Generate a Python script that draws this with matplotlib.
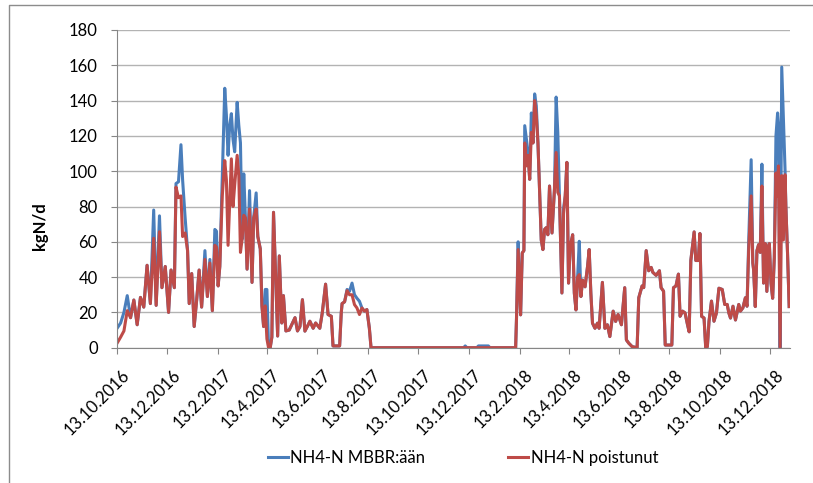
import numpy as np
import matplotlib
matplotlib.use("Agg")
from matplotlib import pyplot as plt
import matplotlib.dates as mdates
import matplotlib.transforms as mtransforms
from matplotlib.lines import Line2D

plt.rcParams['font.family'] = ['Lato', 'DejaVu Sans']

# days since 13.10.2016 (kgN/d)
day = [0, 5, 9, 13, 17, 21, 25, 29, 33, 37, 41, 45, 48, 52, 55, 59, 63, 66, 70, 72,
       75, 78, 80, 83, 86, 88, 91, 94, 97, 100, 103, 107, 110, 113, 116, 119, 121, 123, 125, 128,
       131, 133, 135, 137, 139, 141, 143, 146, 148, 150, 152, 154, 156, 158, 161, 164, 166, 169, 171, 174,
       176, 178, 180, 182, 184, 186, 188, 190, 192, 195, 197, 200, 202, 205, 209, 213, 216, 219, 222, 225,
       228, 232, 234, 238, 241, 246, 249, 253, 256, 260, 262, 270, 272, 273, 276, 279, 282, 285, 288, 291,
       294, 297, 300, 303, 306, 308, 420, 422, 424, 436, 438, 450, 452, 482,
       483, 484, 486, 488, 489, 491, 493, 494, 496, 498, 500, 502, 504, 506, 508, 510, 512, 514, 516, 518,
       520, 522, 524, 527, 530, 532, 534, 536, 539, 541, 543, 545, 547, 549, 552, 554, 556, 558, 560, 562,
       564, 567, 570, 572, 574, 576, 579, 582, 584, 588, 591, 594, 597, 601, 604, 607, 611, 615, 617, 620,
       624, 630, 632, 636, 638, 641, 644, 647, 649, 653, 657, 659, 662, 664, 672, 674, 677, 680, 682, 685,
       688, 691, 693, 695, 699, 701, 704, 706, 708, 711, 713, 715, 717, 720, 723, 726, 729, 733, 736, 739,
       741, 743, 746, 749, 753, 755, 758, 761, 763, 765, 768, 770, 771, 773, 775, 777, 779, 781, 783, 785,
       787, 789, 790, 792, 794, 796, 798, 800, 801, 803, 805, 807, 809, 810, 812, 814]

mbbr_in = [10.5, 14, 20, 29.5, 17, 27, 13, 28.5, 23, 46.7, 25, 78, 24, 74.7, 34, 46, 20, 44, 34, 93,
           94, 115, 95, 74, 55, 25, 42, 12, 27, 44, 23, 55, 29, 50, 21, 67, 66, 35, 46, 97.5,
           147, 131.6, 109, 126, 132.6, 118, 111, 139, 126, 116, 61.5, 98.5, 73.6, 44.5, 89, 37, 73.6, 87.7, 63, 56,
           23.7, 12, 33, 33, 0, 0, 6, 76.7, 48, 6.6, 52, 14, 29.5, 9.5, 10, 14, 17, 9.5, 12, 27.2,
           9.4, 13, 15, 11, 14, 11, 19.7, 36, 18.8, 17.8, 1, 1, 20, 25, 26, 33, 32, 36.6, 30, 28,
           26.3, 22.5, 20.7, 21.6, 11, 0, 0, 1, 0, 0, 1, 1, 0, 0,
           0, 16, 60, 31, 18.6, 53.7, 55, 125.8, 118, 110.6, 95.4, 133, 116, 143.8, 137, 116, 88, 61, 55.6, 67,
           68, 64, 91.6, 65, 90, 142, 122, 86, 31, 79, 86, 105, 36.6, 57.5, 64, 31, 21.4, 40, 60.3, 29,
           38.3, 34.5, 46, 55.6, 31, 13.9, 11, 13.9, 11, 37, 11, 13, 6.3, 20.7, 14.9, 18.8, 13, 34, 4.4, 2.5,
           0.6, 0, 28.3, 35, 34, 55, 43.6, 45.5, 42.7, 41, 43.6, 34, 32, 1.5, 1.5, 34, 35, 41.7, 17.8, 20.7,
           19.7, 13, 9, 49.4, 65.6, 49.4, 49.4, 64.7, 17.8, 16.8, 0, 0.6, 15, 26.4, 15, 19.7, 33.7, 33, 24.5, 24.5,
           19.7, 16.8, 23.5, 15.7, 24.5, 20.7, 22.6, 28.3, 23.5, 60, 106.5, 48, 44, 23.3, 55, 58.4, 54, 104, 36.6, 59,
           31.9, 57.5, 59, 36.6, 28, 51, 120, 133, 127, 0, 159, 129.6, 101, 80, 53.7, 23.3]

removed = [2, 6, 9.5, 21, 17, 27, 13, 28.5, 23, 46.7, 25, 62, 24, 65.7, 34, 46, 20, 44, 34, 91,
           85, 86, 63, 65, 55, 25, 42, 12, 27, 44, 23, 50, 29, 48, 21, 58, 57, 35, 46, 86,
           106, 95, 58, 82, 107, 80, 92, 109, 97.5, 54, 61.5, 75, 73.6, 44.5, 78.6, 37, 73.6, 78.6, 63, 56,
           23.7, 12, 23.7, 5, 0, 0, 6, 76.7, 48, 6.6, 52, 14, 29.5, 9.5, 10, 14, 17, 9.5, 12, 27.2,
           9.4, 13, 15, 11, 14, 11, 19.7, 36, 18.8, 17.8, 1, 1, 20, 25, 26, 32.3, 30, 30, 24.4, 22.5,
           18.8, 22.5, 20.7, 21.6, 11, 0, 0, 0, 0, 0, 0, 0, 0, 0,
           0, 16, 55.6, 31, 18.6, 53.7, 55, 116, 103, 109, 95.4, 122, 116, 140, 131.5, 116, 88, 61, 55.6, 67,
           68, 64, 91.6, 65, 90, 110.6, 88, 86, 31, 76, 86, 105, 36.6, 57.5, 64, 31, 21.4, 40, 41.4, 29,
           38.3, 34.5, 46, 55.6, 31, 13.9, 11, 13.9, 11, 37, 11, 13, 6.3, 20.7, 14.9, 18.8, 13, 34, 4.4, 2.5,
           0.6, 0, 28.3, 35, 34, 55, 43.6, 45.5, 42.7, 41, 43.6, 34, 32, 1.5, 1.5, 34, 35, 41.7, 17.8, 20.7,
           19.7, 13, 9, 49.4, 65.6, 49.4, 49.4, 64.7, 17.8, 16.8, 0, 0.6, 15, 26.4, 15, 19.7, 33.7, 33, 24.5, 24.5,
           19.7, 16.8, 23.5, 15.7, 24.5, 20.7, 22.6, 28.3, 23.5, 55, 86, 48, 44, 23.3, 55, 58.4, 54, 91.6, 36.6, 59,
           31.9, 57.5, 59, 36.6, 28, 51, 99, 86, 103, 0, 97.5, 61, 98, 80, 53.7, 23.3]

labels = ["NH4-N MBBR:ään", "NH4-N poistunut"]
colors = ["#4a7ebb", "#be4b48"]

start = np.datetime64("2016-10-13")
dates = start + np.array(day, dtype="timedelta64[D]")

fig = plt.figure(figsize=(8.13, 4.83), dpi=100)
ax = fig.add_axes([116.5 / 813, 1 - 347.7 / 483, (790 - 116.5) / 813, (347.7 - 30) / 483])

ax.plot(dates, mbbr_in, color=colors[0], lw=2.2, label=labels[0], solid_joinstyle="round")
ax.plot(dates, removed, color=colors[1], lw=2.2, label=labels[1], solid_joinstyle="round")

ax.set_ylim(0, 180)
ax.set_yticks(range(0, 181, 20))
ax.set_xlim(start, start + np.timedelta64(815, "D"))
ax.xaxis.set_major_locator(mdates.MonthLocator(bymonth=[2, 4, 6, 8, 10, 12], bymonthday=13))
ax.xaxis.set_major_formatter(plt.FuncFormatter(
    lambda v, p: "{d.day}.{d.month}.{d.year}".format(d=mdates.num2date(v))))

ax.grid(axis="y", color="#b3b3b3", lw=1)
ax.set_axisbelow(True)
for s in ["top", "right"]:
    ax.spines[s].set_visible(False)
for s in ["left", "bottom"]:
    ax.spines[s].set_color("#868686")
ax.tick_params(axis="y", length=4.5, color="#868686", pad=9, labelsize=12)
ax.tick_params(axis="x", length=4, color="#868686", pad=10, labelsize=12)
shift = mtransforms.ScaledTranslation(0.05, 0, fig.dpi_scale_trans)
for t in ax.get_xticklabels():
    t.set_rotation(45)
    t.set_ha("right")
    t.set_va("top")
    t.set_rotation_mode("anchor")
    t.set_transform(t.get_transform() + shift)

fig.text(40 / 813, 1 - 226 / 483, "kgN/d", rotation=90, ha="center", va="center",
         fontsize=12, fontweight="bold")

ax.legend(loc="center", bbox_to_anchor=(463 / 813, 1 - 458 / 483), bbox_transform=fig.transFigure,
          ncol=2, frameon=False, fontsize=12, handlelength=1.2, handletextpad=0.15, columnspacing=5)

# outer chart frame (only left and top visible)
fig.add_artist(Line2D([9 / 813, 9 / 813, 1], [0, 1 - 5 / 483, 1 - 5 / 483], color="#8c8c8c", lw=1))

fig.savefig("out.png", dpi=100)
